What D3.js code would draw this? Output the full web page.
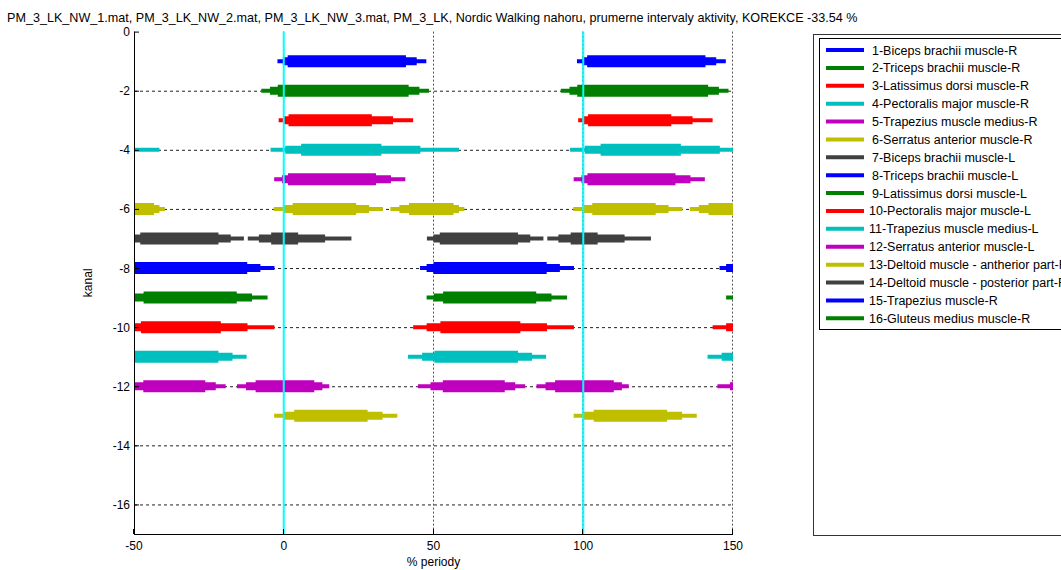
<!DOCTYPE html>
<html>
<head>
<meta charset="utf-8">
<script src="https://cdnjs.cloudflare.com/ajax/libs/d3/7.8.5/d3.min.js"></script>
<style>
  html, body { margin: 0; padding: 0; background: #ffffff; }
  svg { display: block; }
  text { font-family: Arial, "Liberation Sans", sans-serif; fill: #000; }
</style>
</head>
<body>
<svg id="chart" width="1061" height="570"></svg>
<script>
// ---------------- data ----------------
const titleText = "PM_3_LK_NW_1.mat, PM_3_LK_NW_2.mat, PM_3_LK_NW_3.mat, PM_3_LK, Nordic Walking nahoru, prumerne intervaly aktivity, KOREKCE -33.54 %";
const xLabel = "% periody";
const yLabel = "kanal";
const xTicks = [-50, 0, 50, 100, 150];
const yTicks = [0, -2, -4, -6, -8, -10, -12, -14, -16];
const cycleMarks = [0, 100];          // cyan lines (period boundaries)

const legendNames = [
  "1-Biceps brachii muscle-R", "2-Triceps brachii muscle-R", "3-Latissimus dorsi muscle-R",
  "4-Pectoralis major muscle-R", "5-Trapezius muscle medius-R", "6-Serratus anterior muscle-R",
  "7-Biceps brachii muscle-L", "8-Triceps brachii muscle-L", "9-Latissimus dorsi muscle-L",
  "10-Pectoralis major muscle-L", "11-Trapezius muscle medius-L", "12-Serratus anterior muscle-L",
  "13-Deltoid muscle - antherior part-R", "14-Deltoid muscle - posterior part-R",
  "15-Trapezius muscle-R", "16-Gluteus medius muscle-R"
];
const colorCycle = ["#0000ff", "#008000", "#ff0000", "#00bfbf", "#bf00bf", "#bfbf00", "#404040"];

// activity intervals (channel, then nested percentiles: outer / middle / inner)
const chan    = [1,    2,    3,    4,    5,    6,    6,    7,     7,    8,    9,    10,   11,   12,    12,   13];
const thinLo  = [-2.1, -7.5, -1.7, -4.4, -3.2, -3.3, 35.6, -12.0, 47.8, 45.5, 47.7, 43.2, 41.5, -15.6, 44.8, -3.2];
const medLo   = [-0.3, -4.6,  0.1,  0.5, -0.6, -0.1, 38.6,  -8.3, 50.0, 47.7, 50.1, 47.7, 46.2, -12.6, 49.0,  0.0];
const thickLo = [ 1.3, -2.0,  1.6,  5.8,  1.4,  3.0, 41.8,  -4.2, 52.1, 50.0, 53.2, 52.3, 50.3,  -9.4, 53.1,  3.5];
const thickHi = [40.8, 41.7, 29.4, 32.6, 30.8, 24.2, 56.7,   4.8, 78.2, 87.8, 84.3, 79.0, 78.2,  10.2, 73.8, 28.0];
const medHi   = [44.4, 45.3, 36.5, 45.6, 35.8, 28.5, 58.5,  13.8, 82.3, 92.2, 89.4, 87.9, 82.9,  12.9, 77.3, 33.0];
const thinHi  = [47.6, 48.5, 43.2, 58.5, 40.6, 33.1, 60.3,  22.6, 86.7, 96.9, 94.6, 96.9, 87.6,  15.2, 80.6, 37.9];
// period copies in which each interval is shown (shift in % of period)
const fullRepeat = [-100, 0, 100];
const repeats = [fullRepeat, fullRepeat, fullRepeat, fullRepeat, fullRepeat, fullRepeat, fullRepeat, fullRepeat,
                 [-100, 0], fullRepeat, fullRepeat, fullRepeat, fullRepeat, fullRepeat, fullRepeat, fullRepeat];

// ---------------- layout ----------------
const svg = d3.select("#chart");
const L = 134, R = 733, T = 31.6, B = 534;
const x = d3.scaleLinear().domain([-50, 150]).range([L, R]);
const y = d3.scaleLinear().domain([0, -17]).range([T, B]);
const colorOf = ch => colorCycle[(ch - 1) % colorCycle.length];

svg.append("defs").append("clipPath").attr("id", "plotclip")
  .append("rect").attr("x", L).attr("y", T - 10).attr("width", R - L).attr("height", B - T + 10);

// grid
const grid = svg.append("g");
grid.selectAll("line.hg").data(yTicks.filter(v => v !== 0)).enter().append("line")
  .attr("x1", L).attr("x2", R).attr("y1", d => y(d) + 0.5).attr("y2", d => y(d) + 0.5)
  .attr("stroke", "#222").attr("stroke-width", 1).attr("stroke-dasharray", "3,3");
grid.selectAll("line.vg").data(xTicks.filter(v => v !== -50)).enter().append("line")
  .attr("x1", d => Math.round(x(d)) - 0.5).attr("x2", d => Math.round(x(d)) - 0.5)
  .attr("y1", T).attr("y2", B)
  .attr("stroke", "#555").attr("stroke-width", 1).attr("stroke-dasharray", "2,2");

// bars
const segs = [];
chan.forEach((ch, i) => {
  repeats[i].forEach(s => {
    segs.push({ch, lo: thinLo[i] + s, hi: thinHi[i] + s, w: 4});
    segs.push({ch, lo: medLo[i] + s, hi: medHi[i] + s, w: 8});
    segs.push({ch, lo: thickLo[i] + s, hi: thickHi[i] + s, w: 12});
  });
});
segs.sort((a, b) => a.w - b.w);
svg.append("g").attr("clip-path", "url(#plotclip)")
  .selectAll("line").data(segs).enter().append("line")
  .attr("x1", d => x(d.lo)).attr("x2", d => x(d.hi))
  .attr("y1", d => y(-d.ch)).attr("y2", d => y(-d.ch))
  .attr("stroke", d => colorOf(d.ch)).attr("stroke-width", d => d.w)
  .attr("stroke-linecap", "butt");

// cyan cycle lines
svg.append("g").selectAll("line").data(cycleMarks).enter().append("line")
  .attr("x1", d => x(d)).attr("x2", d => x(d)).attr("y1", T).attr("y2", B)
  .attr("stroke", "#00ffff").attr("stroke-width", 2);

// axes
const ax = svg.append("g");
ax.append("line").attr("x1", L + 0.5).attr("x2", L + 0.5).attr("y1", T).attr("y2", B + 0.5).attr("stroke", "#000");
ax.append("line").attr("x1", L).attr("x2", R).attr("y1", B + 0.5).attr("y2", B + 0.5).attr("stroke", "#000");
ax.selectAll("line.yt").data(yTicks).enter().append("line")
  .attr("x1", L).attr("x2", L + 5).attr("y1", d => y(d) + 0.5).attr("y2", d => y(d) + 0.5).attr("stroke", "#000");
ax.selectAll("line.xt").data(xTicks).enter().append("line")
  .attr("x1", d => Math.round(x(d)) - 0.5).attr("x2", d => Math.round(x(d)) - 0.5)
  .attr("y1", B).attr("y2", B - 5).attr("stroke", "#000");
ax.selectAll("text.yl").data(yTicks).enter().append("text")
  .attr("x", L - 4).attr("y", d => y(d) + 4.5).attr("text-anchor", "end")
  .attr("font-size", 12).text(d => d);
ax.selectAll("text.xl").data(xTicks).enter().append("text")
  .attr("x", d => x(d)).attr("y", B + 16).attr("text-anchor", "middle")
  .attr("font-size", 12).text(d => d);
svg.append("text").attr("x", x(50)).attr("y", 566).attr("text-anchor", "middle")
  .attr("font-size", 12).text(xLabel);
svg.append("text").attr("transform", `translate(${L - 42},${(T + B) / 2}) rotate(-90)`)
  .attr("text-anchor", "middle").attr("font-size", 12).text(yLabel);

// title
svg.append("text").attr("x", 7).attr("y", 22).attr("font-size", 12.6).text(titleText);

// legend
const lg = svg.append("g");
lg.append("rect").attr("x", 813.5).attr("y", 34.5).attr("width", 260).attr("height", 501)
  .attr("fill", "#fff").attr("stroke", "#333");
lg.append("rect").attr("x", 819.5).attr("y", 38.5).attr("width", 260).attr("height", 291)
  .attr("fill", "#fff").attr("stroke", "#000");
const ly = d3.scaleLinear().domain([0, 15]).range([50, 318.3]);
const items = lg.selectAll("g.item").data(legendNames).enter().append("g")
  .attr("transform", (d, i) => `translate(0,${ly(i)})`);
items.append("line").attr("x1", 826).attr("x2", 864).attr("y1", 0).attr("y2", 0)
  .attr("stroke", (d, i) => colorOf(i + 1)).attr("stroke-width", 4);
items.append("text").attr("x", (d, i) => i < 9 ? 872 : 869).attr("y", 4.5)
  .attr("font-size", 12.5).text(d => d);
</script>
</body>
</html>
